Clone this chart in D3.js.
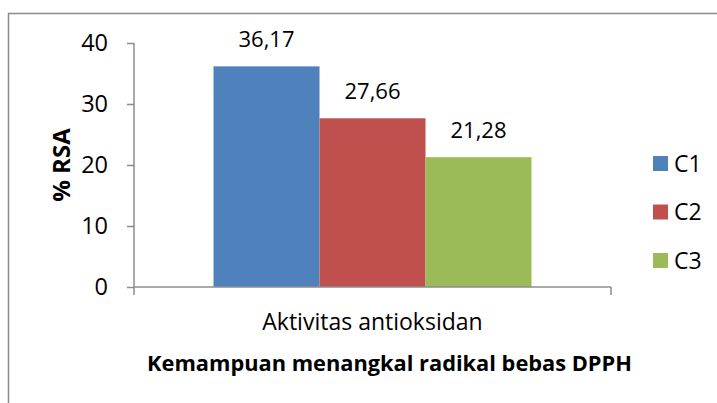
<!DOCTYPE html>
<html><head><meta charset="utf-8">
<script src="https://cdn.jsdelivr.net/npm/d3@7"></script>
<style>body{margin:0;background:#fff}svg{display:block;font-family:"Open Sans",sans-serif}</style>
</head><body>
<script>
const categories = ["Aktivitas antioksidan"];
const seriesNames = ["C1", "C2", "C3"];
const values = [36.17, 27.66, 21.28];
const valueLabels = ["36,17", "27,66", "21,28"];
const colors = ["#4f81bd", "#c0504d", "#9bbb59"];
const yTicks = [0, 10, 20, 30, 40];
const yTitle = "% RSA";
const xTitle = "Kemampuan menangkal radikal bebas DPPH";

(function () {
const W = 717, H = 403;
const svg = d3.select("body").append("svg").attr("width", W).attr("height", H);

svg.append("rect").attr("x", 8.5).attr("y", 13.5).attr("width", W + 20).attr("height", H + 20)
  .attr("fill", "none").attr("stroke", "#8c8c8c").attr("stroke-width", 1.5);

const pL = 134, pR = 611, pT = 43, pB = 287;
const y = d3.scaleLinear().domain([0, 40]).range([pB, pT]);
const x0 = d3.scaleBand().domain(categories).range([pL, pR]);
const x1 = d3.scaleBand().domain(seriesNames).range([0, x0.bandwidth()]).paddingInner(0).paddingOuter(0.75);

const g = svg.append("g");
categories.forEach(cat => {
  seriesNames.forEach((s, i) => {
    const bx = x0(cat) + x1(s);
    g.append("rect").attr("x", bx).attr("y", y(values[i]))
      .attr("width", x1.bandwidth()).attr("height", y(0) - y(values[i]))
      .attr("fill", colors[i]);
    g.append("text").attr("x", bx + x1.bandwidth() / 2).attr("y", y(values[i]) - 19)
      .attr("text-anchor", "middle").attr("font-size", 22).attr("fill", "#000")
      .text(valueLabels[i]);
  });
});

// y axis
const yAxis = d3.axisLeft(y).tickValues(yTicks).tickSize(7).tickPadding(19).tickFormat(d3.format("d"));
const ya = svg.append("g").attr("transform", `translate(${pL},0)`).call(yAxis);
ya.select(".domain").attr("stroke", "#8c8c8c").attr("stroke-width", 1.5).attr("d", `M0,${pT}V${pB}`);
ya.selectAll(".tick line").attr("stroke", "#8c8c8c").attr("stroke-width", 1.5);
ya.selectAll(".tick text").attr("font-size", 23.5).attr("font-family", "Open Sans").attr("fill", "#000");

// x axis
const xa = svg.append("g").attr("transform", `translate(0,${pB})`);
xa.append("path").attr("d", `M${pL},0H${pR}`).attr("stroke", "#8c8c8c").attr("stroke-width", 1.5).attr("fill", "none");
[pL, pR].forEach(px => xa.append("line").attr("x1", px).attr("x2", px).attr("y1", 0).attr("y2", 8)
  .attr("stroke", "#8c8c8c").attr("stroke-width", 1.5));
categories.forEach(cat => {
  xa.append("text").attr("x", x0(cat) + x0.bandwidth() / 2).attr("y", 43)
    .attr("text-anchor", "middle").attr("font-size", 23).attr("fill", "#000").text(cat);
});

svg.append("text").attr("x", (pL + pR) / 2 + 17).attr("y", 371).attr("text-anchor", "middle")
  .attr("font-size", 21.8).attr("font-weight", "bold").attr("fill", "#000").text(xTitle);

svg.append("text").attr("transform", "translate(70,165) rotate(-90)").attr("text-anchor", "middle")
  .attr("font-size", 24).attr("font-weight", "bold").attr("fill", "#000").text(yTitle);

// legend
const leg = svg.append("g");
seriesNames.forEach((s, i) => {
  const ly = 156 + i * 48.5;
  leg.append("rect").attr("x", 653).attr("y", ly).attr("width", 15).attr("height", 15).attr("fill", colors[i]);
  leg.append("text").attr("x", 674).attr("y", ly + 7.5).attr("dy", "0.36em").attr("font-size", 23)
    .attr("fill", "#000").text(s);
});
})();
</script>
</body></html>
